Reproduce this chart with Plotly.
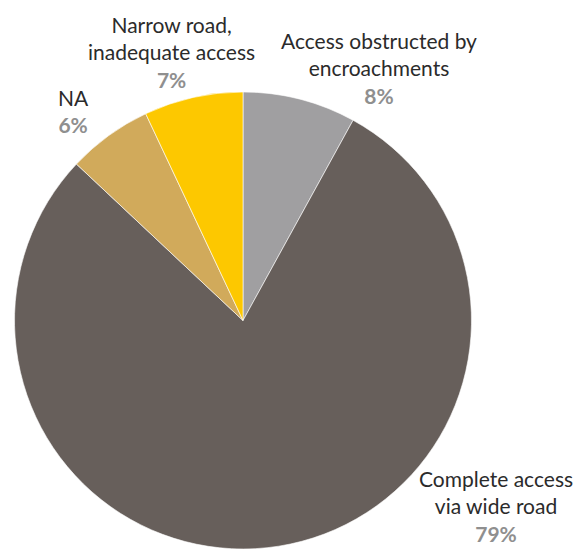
"""Road access to the site - share of respondents"""
import plotly.graph_objects as go

labels = [
    "Access obstructed by encroachments",
    "Complete access via wide road",
    "NA",
    "Narrow road, inadequate access",
]
values = [8, 79, 6, 7]
label_lines = [
    ["Access obstructed by", "encroachments"],
    ["Complete access", "via wide road"],
    ["NA"],
    ["Narrow road,", "inadequate access"],
]
colors = ["#a09fa1", "#675f5b", "#d1aa5b", "#fdc800"]

W, H = 579, 549
# label block centres (pixels)
label_pos = [(379, 68), (496, 506), (73, 111), (171, 52)]

fig = go.Figure(
    go.Pie(
        labels=labels,
        values=values,
        sort=False,
        direction="clockwise",
        rotation=0,
        marker=dict(colors=colors, line=dict(color="#ffffff", width=0.6)),
        textinfo="none",
        hoverinfo="label+percent",
        domain=dict(x=[14 / W, 472 / W], y=[0, 1 - 92 / H]),
    )
)

for lines, v, (px_, py_) in zip(label_lines, values, label_pos):
    txt = "<br>".join(lines) + f"<br><b><span style='color:#8f8f8f'>{v}%</span></b>"
    fig.add_annotation(
        x=px_ / W,
        y=1 - py_ / H,
        xref="paper",
        yref="paper",
        text=txt,
        showarrow=False,
        xanchor="center",
        yanchor="middle",
        align="center",
        font=dict(family="Lato", size=21, color="#2b2b2b"),
    )

fig.update_layout(
    width=W,
    height=H,
    margin=dict(l=0, r=0, t=0, b=0),
    showlegend=False,
    paper_bgcolor="#ffffff",
    font=dict(family="Lato"),
)

# page body has an 8px default margin; drop it so the figure fills the window
fig.write_html(
    "out.html",
    config={"displayModeBar": False},
    post_script="document.body.style.margin='0';",
)
